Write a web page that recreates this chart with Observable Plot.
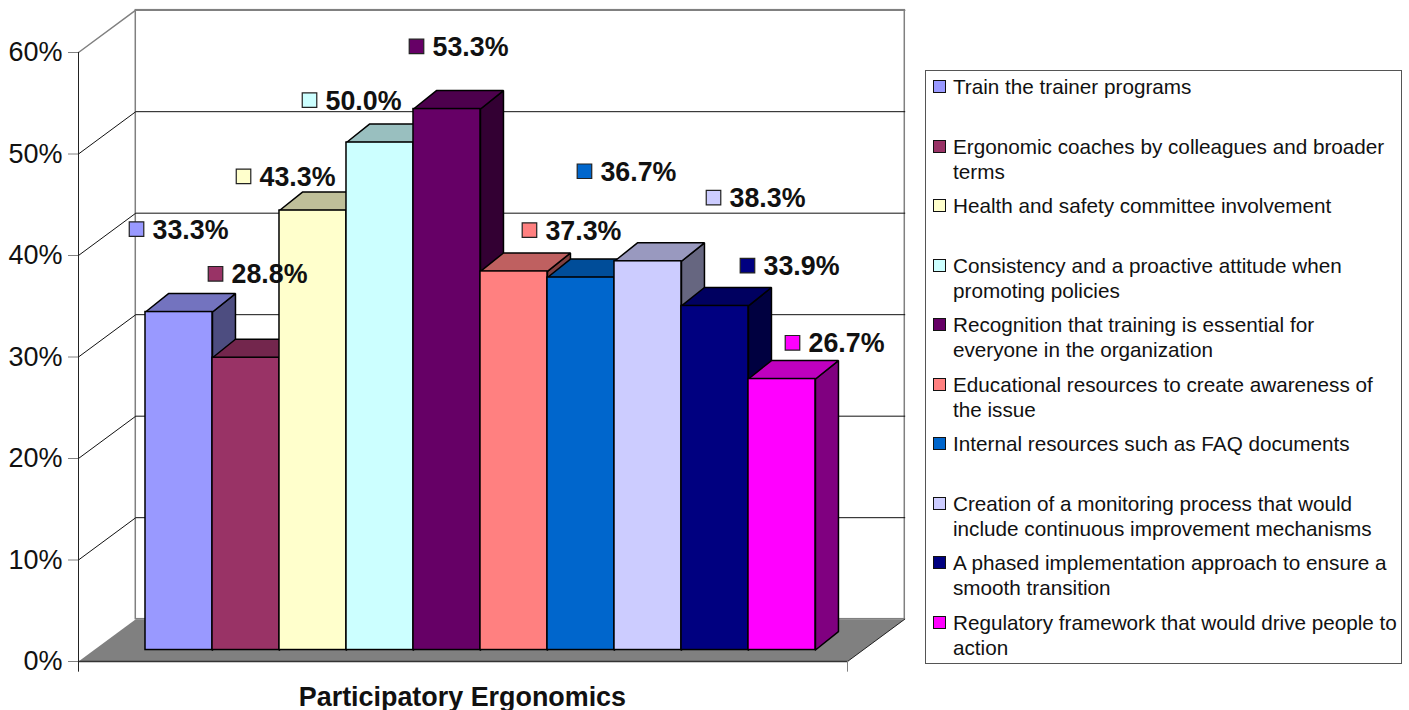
<!DOCTYPE html>
<html><head><meta charset="utf-8">
<script src="https://cdn.jsdelivr.net/npm/d3@7"></script>
<script src="https://cdn.jsdelivr.net/npm/@observablehq/plot@0.6"></script>
<style>
html,body{margin:0;padding:0;background:#fff;overflow:hidden}
body{width:1409px;height:710px;position:relative;font-family:"Liberation Sans",Arial,sans-serif}
#legend{position:absolute;left:925px;top:70px;width:475px;height:592px;border:1px solid #555;background:#fff;box-sizing:content-box}
.item{position:absolute;left:27px;width:446px;font-size:20.7px;line-height:25px;color:#111}
.item i{position:absolute;left:-20px;top:6px;width:11px;height:11px;border:1.5px solid #111;display:block}
</style></head><body>
<div id="chart"></div>
<div id="legend"></div>
<script>
const categories = [
  "Train the trainer programs",
  "Ergonomic coaches by colleagues and broader terms",
  "Health and safety committee involvement",
  "Consistency and a proactive attitude when promoting policies",
  "Recognition that training is essential for everyone in the organization",
  "Educational resources to create awareness of the issue",
  "Internal resources such as FAQ documents",
  "Creation of a monitoring process that would include continuous improvement mechanisms",
  "A phased implementation approach to ensure a smooth transition",
  "Regulatory framework that would drive people to action"
];
const values = [33.3, 28.8, 43.3, 50.0, 53.3, 37.3, 36.7, 38.3, 33.9, 26.7];
const fronts = ["#9999FF","#993366","#FFFFCC","#CCFFFF","#660066","#FF8080","#0066CC","#CCCCFF","#000080","#FF00FF"];
const yTicks = [0, 10, 20, 30, 40, 50, 60];
const axisTitle = "Participatory Ergonomics";
// where each floating value label was placed, in the chart's own units
const labelSlot = [0.866, 2.045, 2.463, 3.448, 5.045, 6.731, 7.552, 9.478, 9.985, 10.657];
const labelLevel = [42.6, 38.2, 47.8, 55.3, 60.6, 42.5, 48.3, 45.7, 39.0, 31.4];

// oblique projection, in scale units
const floorW = 11.478, wallDx = 0.855, wallDy = 4.17;
const barDx = 0.343, barDy = 1.82, barBase = 1.13, tickDrop = -1.05;

const poly = (pts, o) => Plot.line(pts, {x: p => p[0], y: p => p[1], strokeLinejoin: "miter", ...o});
const shade = (c, k) => { const r = d3.rgb(c); return d3.rgb(r.r*k, r.g*k, r.b*k).formatHex(); };

const marks = [
  // back wall and left wall
  Plot.rect([0], {x1: wallDx, x2: floorW + wallDx, y1: wallDy, y2: 60 + wallDy, fill: "white", stroke: "#808080", strokeWidth: 1.5}),
  // gridlines across both walls
  ...yTicks.filter(t => t > 0).map(t =>
    poly([[0, t], [wallDx, t + wallDy], [floorW + wallDx, t + wallDy]],
         {stroke: t === 60 ? "#808080" : "#111", strokeWidth: t === 60 ? 1.5 : 1})),
  // floor
  poly([[0, 0], [floorW, 0], [floorW + wallDx, wallDy], [wallDx, wallDy], [0, 0]], {fill: "#808080", stroke: "none"}),
  poly([[floorW, 0], [floorW + wallDx, wallDy]], {stroke: "#222", strokeWidth: 1}),
  poly([[0, 0], [floorW, 0]], {stroke: "#333", strokeWidth: 1.5}),
  // axis lines
  Plot.ruleX([0], {y1: tickDrop, y2: 60, stroke: "#222", strokeWidth: 1}),
  Plot.ruleX([floorW], {y1: tickDrop, y2: 0, stroke: "#808080", strokeWidth: 1}),
  Plot.axisY({ticks: yTicks, tickFormat: d => d + "%", tickSize: 10, tickPadding: 6, stroke: "#808080",
              fontSize: 27, label: null, color: "#808080", fill: "#111"}),
  // bars, painted left to right so later bars overlap earlier side faces
  ...values.flatMap((v, i) => {
    const l = 1 + i, r = 2 + i, b = barBase, t = v + barBase;
    const o = {stroke: "#000", strokeWidth: 1.5};
    return [
      poly([[r, b], [r + barDx, b + barDy], [r + barDx, t + barDy], [r, t], [r, b]], {fill: shade(fronts[i], 0.5), ...o}),
      poly([[l, t], [r, t], [r + barDx, t + barDy], [l + barDx, t + barDy], [l, t]], {fill: shade(fronts[i], 0.75), ...o}),
      Plot.rect([i], {x1: l, x2: r, y1: b, y2: t, fill: fronts[i], ...o})
    ];
  }),
  // floating value labels
  Plot.dot(values.map((v, i) => i), {x: i => labelSlot[i], y: i => labelLevel[i], symbol: "square", r: 8.2,
    fill: i => fronts[i], stroke: "#222", strokeWidth: 1.2}),
  Plot.text(values.map((v, i) => i), {x: i => labelSlot[i], y: i => labelLevel[i], text: i => values[i].toFixed(1) + "%",
    textAnchor: "start", dx: 16, dy: 1, fontSize: 26.8, fontWeight: "bold", fill: "#111"}),
  Plot.text([axisTitle], {x: 5.73, y: -3.5, dy: 0.5, text: d => d, fontSize: 26.9, fontWeight: "bold", fill: "#111"})
];

const chart = Plot.plot({
  width: 1409, height: 710,
  marginLeft: 78, marginRight: 562, marginTop: 52, marginBottom: 49,
  x: {domain: [0, floorW], axis: null},
  y: {domain: [0, 60], axis: null},
  style: {fontFamily: '"Liberation Sans", Arial, sans-serif', background: "white", overflow: "visible"},
  marks
});
document.getElementById("chart").append(chart);

const legend = document.getElementById("legend");
categories.forEach((c, i) => {
  const d = document.createElement("div");
  d.className = "item";
  d.style.top = (3 + i * 59.5) + "px";
  const sw = document.createElement("i");
  sw.style.background = fronts[i];
  d.append(sw, document.createTextNode(c));
  legend.append(d);
});
</script>
</body></html>
